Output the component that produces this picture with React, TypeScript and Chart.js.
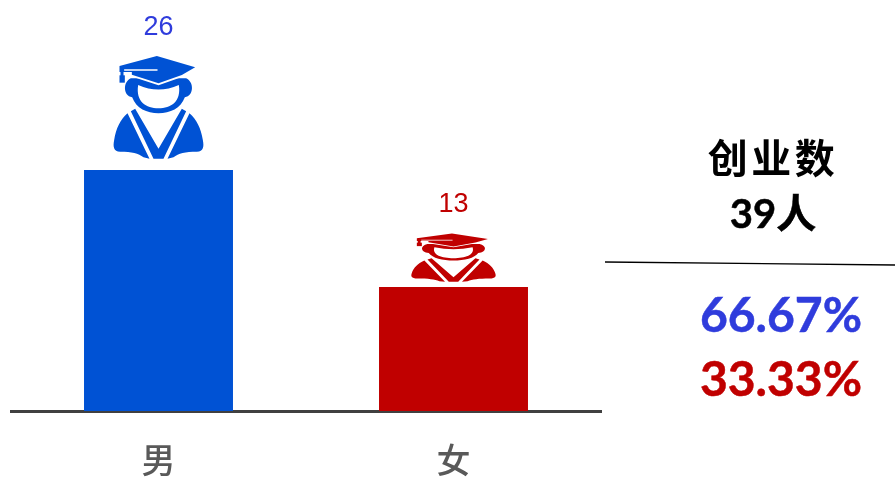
import React, { useEffect, useRef } from "react";
import { Chart, registerables } from "chart.js";

Chart.register(...registerables);

const categories = ["男", "女"];
const values = [26, 13];
const barColors = ["#0052d4", "#c00000"];
const labelColors = ["#2f3cdc", "#c00000"];
const labelOffsets = [142, 82];
const iconScales = [
  { sx: 1, sy: 1, lift: 11 },
  { sx: 0.94, sy: 0.47, lift: 5 },
];
const panelTitle = "创业数";
const panelTotal = "39人";
const panelShares = ["66.67%", "33.33%"];
const axisFloor = -0.78;

function drawIcon(ctx: CanvasRenderingContext2D, color: string) {
  // icon outline, in local units around x=145, bottom y=327
  ctx.fillStyle = color;
  ctx.beginPath();
  ctx.moveTo(62, 85);
  ctx.bezierCurveTo(38, 95, 38, 138, 66, 142);
  ctx.bezierCurveTo(78, 175, 110, 190, 145, 190);
  ctx.bezierCurveTo(180, 190, 212, 175, 224, 142);
  ctx.bezierCurveTo(252, 138, 252, 95, 228, 85);
  ctx.closePath();
  ctx.fill();
  ctx.beginPath();
  ctx.moveTo(28, 48);
  ctx.lineTo(140, 18);
  ctx.lineTo(255, 52);
  ctx.lineTo(215, 75);
  ctx.lineTo(145, 100);
  ctx.lineTo(65, 74);
  ctx.lineTo(65, 66);
  ctx.lineTo(28, 66);
  ctx.closePath();
  ctx.strokeStyle = "#ffffff";
  ctx.lineWidth = 11;
  ctx.stroke();
  ctx.fill();
  ctx.fillStyle = color;
  ctx.fillRect(31, 62, 9, 18);
  ctx.fillRect(28, 76, 16, 22);
  ctx.strokeStyle = "#ffffff";
  ctx.lineWidth = 5;
  ctx.beginPath();
  ctx.moveTo(42, 60);
  ctx.lineTo(142, 60);
  ctx.stroke();
  ctx.fillStyle = "#ffffff";
  ctx.beginPath();
  ctx.moveTo(84, 105);
  ctx.quadraticCurveTo(145, 132, 206, 105);
  ctx.bezierCurveTo(214, 155, 182, 175, 145, 175);
  ctx.bezierCurveTo(108, 175, 76, 155, 84, 105);
  ctx.fill();
  ctx.fillStyle = color;
  for (const m of [1, -1]) {
    const X = (x: number) => 145 + m * (x - 145);
    ctx.beginPath();
    ctx.moveTo(X(52), 190);
    ctx.lineTo(X(118), 326);
    ctx.lineTo(X(100), 322);
    ctx.bezierCurveTo(X(85), 310, X(65), 305, X(30), 305);
    ctx.bezierCurveTo(X(10), 305, X(8), 290, X(12), 270);
    ctx.bezierCurveTo(X(18), 235, X(30), 210, X(52), 190);
    ctx.fill();
  }
  ctx.beginPath();
  ctx.moveTo(62, 184);
  ctx.lineTo(75, 176);
  ctx.lineTo(145, 296);
  ctx.lineTo(215, 176);
  ctx.lineTo(228, 184);
  ctx.lineTo(160, 326);
  ctx.lineTo(130, 326);
  ctx.closePath();
  ctx.fill();
}

const decorate = {
  id: "decorate",
  afterDatasetsDraw(chart: any) {
    const ctx: CanvasRenderingContext2D = chart.ctx;
    chart.getDatasetMeta(0).data.forEach((bar: any, i: number) => {
      ctx.save();
      ctx.translate(bar.x, bar.y - iconScales[i].lift);
      ctx.scale(iconScales[i].sx / 3, iconScales[i].sy / 3);
      ctx.translate(-145, -327);
      drawIcon(ctx, barColors[i]);
      ctx.restore();
      ctx.save();
      ctx.fillStyle = labelColors[i];
      ctx.font = '27px "Liberation Sans"';
      ctx.textAlign = "center";
      ctx.textBaseline = "middle";
      ctx.fillText(String(values[i]), bar.x, bar.y - labelOffsets[i]);
      ctx.restore();
    });
  },
};

const panelText = (top: number, left: number, width: number, size: number, color: string, cjk: boolean, spacing: number): React.CSSProperties => ({
  position: "absolute",
  top,
  left,
  width,
  height: size * 1.4,
  lineHeight: `${size * 1.4}px`,
  textAlign: "center",
  fontSize: size,
  fontWeight: 700,
  color,
  letterSpacing: spacing,
  fontFamily: cjk ? '"Noto Sans CJK SC"' : 'Lato, "Noto Sans CJK SC"',
  WebkitTextStroke: cjk ? undefined : "0.5px " + color,
  whiteSpace: "nowrap",
});

export default function App() {
  const ref = useRef<HTMLCanvasElement>(null);
  useEffect(() => {
    const chart = new Chart(ref.current!, {
      type: "bar",
      data: {
        labels: categories,
        datasets: [
          {
            data: values,
            backgroundColor: barColors,
            borderWidth: 0,
            base: axisFloor,
            categoryPercentage: 1,
            barPercentage: 0.505,
          },
        ],
      },
      options: {
        responsive: false,
        animation: false,
        layout: { padding: { left: 11, right: 294, top: 10, bottom: 0 } },
        plugins: { legend: { display: false }, tooltip: { enabled: false } },
        scales: {
          x: {
            afterFit: (s: any) => {
              s.height = 67;
            },
            grid: { display: false },
            border: { display: true, color: "#404040", width: 3 },
            ticks: {
              color: "#595959",
              padding: 21,
              font: { size: 34, weight: "500", family: '"Noto Sans CJK SC"' },
              maxRotation: 0,
            },
          },
          y: { display: false, min: axisFloor, max: 43.78 },
        },
      },
      plugins: [decorate],
    } as any);
    return () => chart.destroy();
  }, []);

  return (
    <div style={{ position: "absolute", left: 0, top: 0, width: 895, height: 478, overflow: "hidden", background: "#ffffff" }}>
      <canvas ref={ref} width={895} height={478} style={{ display: "block", width: 895, height: 478 }} />
      <div style={panelText(128, 673, 200, 40, "#000000", true, 3.5)}>{panelTitle}</div>
      <div style={panelText(185, 673, 200, 40, "#000000", false, 0)}>{panelTotal}</div>
      <svg width={895} height={478} style={{ position: "absolute", left: 0, top: 0 }}>
        <line x1={605} y1={262} x2={895} y2={265} stroke="#000000" strokeWidth={1.3} />
      </svg>
      <div style={panelText(280, 671, 220, 48, labelColors[0], false, 0)}>{panelShares[0]}</div>
      <div style={panelText(344, 671, 220, 48, labelColors[1], false, 0)}>{panelShares[1]}</div>
    </div>
  );
}
